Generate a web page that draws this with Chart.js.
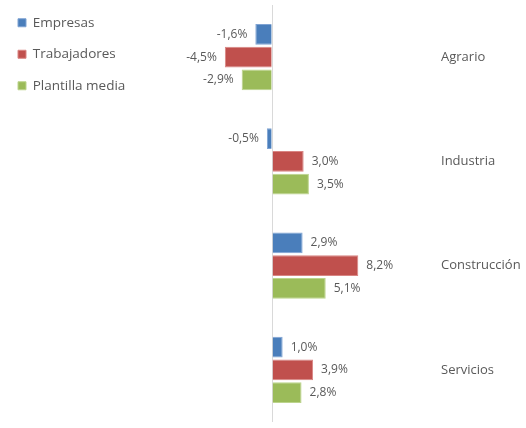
<!DOCTYPE html>
<html>
<head>
<meta charset="utf-8">
<script src="https://cdn.jsdelivr.net/npm/chart.js@4/dist/chart.umd.min.js"></script>
<style>
  html, body { margin: 0; padding: 0; background: #fff; }
  #wrap { width: 526px; height: 428px; }
</style>
</head>
<body>
<div id="wrap"><canvas id="chart"></canvas></div>
<script>
const categories = ['Agrario', 'Industria', 'Construcción', 'Servicios'];
const empresas = [-1.6, -0.5, 2.9, 1.0];
const trabajadores = [-4.5, 3.0, 8.2, 3.9];
const plantillaMedia = [-2.9, 3.5, 5.1, 2.8];

const FONT = '"Open Sans", "Liberation Sans", sans-serif';
const GREY = '#595959';

// etiquetas de valor al final de cada barra
const valueLabels = {
    id: 'valueLabels',
    afterDatasetsDraw(chart) {
        const ctx = chart.ctx;
        ctx.save();
        ctx.font = '12px ' + FONT;
        ctx.fillStyle = GREY;
        ctx.textBaseline = 'middle';
        chart.data.datasets.forEach((ds, i) => {
            chart.getDatasetMeta(i).data.forEach((bar, j) => {
                const v = ds.data[j];
                const txt = v.toFixed(1).replace('.', ',') + '%';
                if (v < 0) {
                    ctx.textAlign = 'right';
                    ctx.fillText(txt, bar.x - 8, bar.y);
                } else {
                    ctx.textAlign = 'left';
                    ctx.fillText(txt, bar.x + 8, bar.y);
                }
            });
        });
        ctx.restore();
    }
};

new Chart(document.getElementById('chart'), {
    type: 'bar',
    data: {
        labels: categories,
        datasets: [
            { label: 'Empresas', data: empresas, backgroundColor: '#4a7ebb', borderColor: '#7fa3d3' },
            { label: 'Trabajadores', data: trabajadores, backgroundColor: '#c0504d', borderColor: '#d98583' },
            { label: 'Plantilla media', data: plantillaMedia, backgroundColor: '#9bbb59', borderColor: '#bcd48d' }
        ]
    },
    options: {
        indexAxis: 'y',
        responsive: true,
        maintainAspectRatio: false,
        animation: false,
        layout: { padding: { left: 0, top: 5, bottom: 6, right: 0 } },
        datasets: {
            bar: { categoryPercentage: 0.655, barPercentage: 0.92, borderWidth: 1 }
        },
        scales: {
            x: {
                min: -25.9,
                max: 15.5,
                ticks: { display: false, stepSize: 1 },
                border: { display: false },
                grid: {
                    drawTicks: false,
                    color: c => c.tick && Math.abs(c.tick.value) < 1e-9 ? '#d9d9d9' : 'rgba(0,0,0,0)'
                },
                afterFit: s => { s.height = 0; s.paddingLeft = 0; s.paddingRight = 0; }
            },
            y: {
                position: 'right',
                grid: { display: false, drawTicks: false },
                border: { display: false },
                ticks: { padding: 6, color: GREY, font: { family: FONT, size: 13 } },
                afterFit: s => { s.width = 91; s.paddingTop = 0; s.paddingBottom = 0; }
            }
        },
        plugins: {
            legend: {
                position: 'chartArea',
                align: 'start',
                // titulo vacio con padding negativo para colocar la primera entrada
                title: { display: true, text: '', font: { size: 1, lineHeight: 1 }, padding: { top: -1.5, bottom: -1.5 } },
                labels: {
                    boxWidth: 8,
                    boxHeight: 8,
                    padding: 18,
                    color: GREY,
                    font: { family: FONT, size: 13.5 }
                }
            },
            tooltip: { enabled: false }
        }
    },
    plugins: [valueLabels]
});
</script>
</body>
</html>
